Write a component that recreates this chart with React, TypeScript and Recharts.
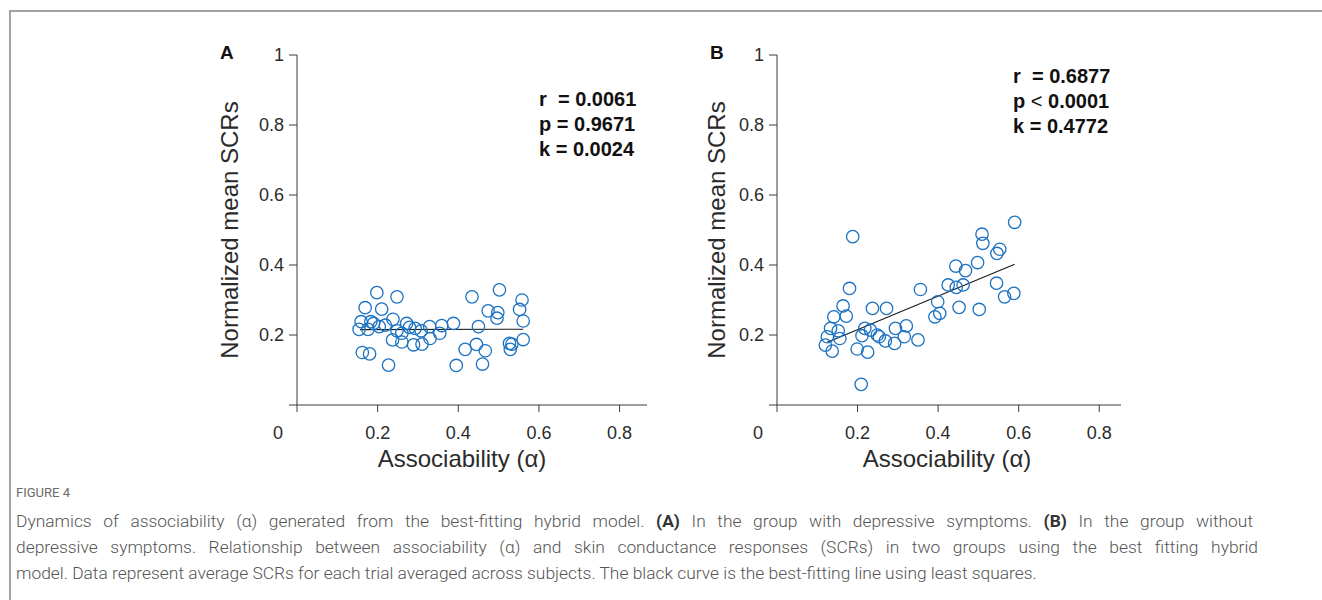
import React from 'react';
import { ComposedChart, Scatter, XAxis, YAxis } from 'recharts';

// axis ticks shared by both panels
const alphaTicks = [0, 0.2, 0.4, 0.6, 0.8];
const scrTicks = [0, 0.2, 0.4, 0.6, 0.8, 1];

// panel A: group with depressive symptoms
const depAlpha = [
  0.198, 0.248, 0.169, 0.21, 0.159, 0.183, 0.19, 0.238, 0.154, 0.176, 0.204, 0.219,
  0.248, 0.272, 0.279, 0.26, 0.293, 0.308, 0.329, 0.359, 0.354, 0.33, 0.388, 0.237,
  0.26, 0.289, 0.31, 0.162, 0.18, 0.227, 0.395, 0.417, 0.445, 0.467, 0.46, 0.45,
  0.434, 0.474, 0.502, 0.498, 0.496, 0.558, 0.552, 0.561, 0.561, 0.527, 0.533, 0.529,
];
const depScr = [
  0.321, 0.309, 0.278, 0.274, 0.238, 0.238, 0.233, 0.245, 0.216, 0.216, 0.224, 0.228,
  0.212, 0.233, 0.222, 0.205, 0.219, 0.212, 0.224, 0.227, 0.205, 0.19, 0.233, 0.186,
  0.18, 0.172, 0.174, 0.15, 0.146, 0.114, 0.113, 0.159, 0.173, 0.155, 0.117, 0.224,
  0.309, 0.269, 0.329, 0.264, 0.248, 0.3, 0.273, 0.24, 0.187, 0.176, 0.174, 0.159,
];
const depFitAlpha = [0.156, 0.561];
const depFitScr = [0.2155, 0.2165];
const depStats = [
  ['r ', '=', '0.0061'],
  ['p', '=', '0.9671'],
  ['k', '=', '0.0024'],
];

// panel B: group without depressive symptoms
const ctlAlpha = [
  0.59, 0.188, 0.509, 0.511, 0.553, 0.546, 0.498, 0.444, 0.468, 0.425, 0.445, 0.462,
  0.356, 0.18, 0.545, 0.565, 0.588, 0.399, 0.404, 0.392, 0.452, 0.502, 0.237, 0.272,
  0.164, 0.141, 0.172, 0.133, 0.152, 0.125, 0.156, 0.12, 0.137, 0.218, 0.232, 0.211,
  0.249, 0.254, 0.269, 0.294, 0.321, 0.316, 0.292, 0.35, 0.199, 0.225, 0.209,
];
const ctlScr = [
  0.522, 0.481, 0.488, 0.462, 0.445, 0.433, 0.407, 0.397, 0.384, 0.343, 0.336, 0.343,
  0.33, 0.333, 0.348, 0.309, 0.319, 0.295, 0.262, 0.252, 0.279, 0.273, 0.276, 0.276,
  0.283, 0.252, 0.254, 0.219, 0.212, 0.195, 0.19, 0.171, 0.154, 0.219, 0.214, 0.198,
  0.2, 0.195, 0.183, 0.219, 0.226, 0.195, 0.176, 0.186, 0.16, 0.151, 0.059,
];
const ctlFitAlpha = [0.125, 0.59];
const ctlFitScr = [0.179, 0.402];
const ctlStats = [
  ['r ', '=', '0.6877'],
  ['p', '<', '0.0001'],
  ['k', '=', '0.4772'],
];

const FONT = '"Liberation Sans", Arial, Helvetica, sans-serif';
const CAPTION_FONT = 'Roboto, "Noto Sans", sans-serif';
const INK = '#2b2b2b';
const AXIS = '#3a3a3a';
const BLUE = '#1c72c2';

const toPoints = (xs: number[], ys: number[]) => xs.map((x, i) => ({ x, y: ys[i] }));

const XTick = (props: any) => {
  const { x, y, payload } = props;
  const v = payload.value;
  // the origin label sits left of the corner, like the MATLAB original
  const shift = v === 0 ? -19 : 0;
  return (
    <text x={x + shift} y={y} dy="0.71em" textAnchor="middle" fill={INK} fontSize={18} fontFamily={FONT}>
      {String(v)}
    </text>
  );
};

const Ring = (props: any) => {
  const { cx, cy } = props;
  if (cx == null || cy == null) return <g />;
  return <circle cx={cx} cy={cy} r={6.2} fill="none" stroke={BLUE} strokeWidth={1.3} />;
};

interface PanelProps {
  left: number;
  width: number;
  xMax: number;
  alpha: number[];
  scr: number[];
  fitAlpha: number[];
  fitScr: number[];
}

function Panel({ left, width, xMax, alpha, scr, fitAlpha, fitScr }: PanelProps) {
  const points = toPoints(alpha, scr);
  const fit = toPoints(fitAlpha, fitScr);
  return (
    <div style={{ position: 'absolute', left, top: 40 }}>
      <ComposedChart width={width} height={420} margin={{ top: 15, right: 23, bottom: 15, left: 37 }}>
        <XAxis
          type="number"
          dataKey="x"
          domain={[0, xMax]}
          ticks={alphaTicks}
          height={40}
          tickSize={7}
          tickMargin={14}
          axisLine={{ stroke: AXIS, strokeWidth: 1 }}
          tickLine={{ stroke: AXIS, strokeWidth: 1 }}
          tick={<XTick />}
        />
        <YAxis
          type="number"
          dataKey="y"
          domain={[0, 1]}
          ticks={scrTicks}
          width={60}
          tickSize={8}
          tickMargin={5}
          axisLine={{ stroke: AXIS, strokeWidth: 1 }}
          tickLine={{ stroke: AXIS, strokeWidth: 1 }}
          tick={{ fill: INK, fontSize: 18, fontFamily: FONT }}
          tickFormatter={(v: number) => (v === 0 ? '' : String(v))}
        />
        <Scatter
          data={fit}
          dataKey="y"
          line={{ stroke: '#1a1a1a', strokeWidth: 1.1 }}
          shape={() => <g />}
          isAnimationActive={false}
          legendType="none"
        />
        <Scatter data={points} dataKey="y" shape={<Ring />} isAnimationActive={false} />
      </ComposedChart>
    </div>
  );
}

const Stats = ({ rows, left, top }: { rows: string[][]; left: number; top: number }) => (
  <div
    style={{
      position: 'absolute',
      left,
      top,
      fontFamily: FONT,
      fontWeight: 700,
      fontSize: 20,
      lineHeight: '25px',
      color: '#111',
      whiteSpace: 'pre',
    }}
  >
    {rows.map((r, i) => (
      <div key={i}>
        {r[0]}{' '}
        <span style={{ fontWeight: r[1] === '<' ? 400 : 700 }}>{r[1]}</span> {r[2]}
      </div>
    ))}
  </div>
);

const Letter = ({ text, left }: { text: string; left: number }) => (
  <div
    style={{
      position: 'absolute',
      left,
      top: 42,
      fontFamily: FONT,
      fontWeight: 700,
      fontSize: 19,
      lineHeight: '22px',
      color: '#111',
    }}
  >
    {text}
  </div>
);

const YTitle = ({ cx }: { cx: number }) => (
  <div
    style={{
      position: 'absolute',
      left: cx,
      top: 230,
      transform: 'translate(-50%, -50%) rotate(-90deg)',
      fontFamily: FONT,
      fontSize: 24,
      color: INK,
      whiteSpace: 'nowrap',
      lineHeight: '28px',
    }}
  >
    Normalized mean SCRs
  </div>
);

const XTitle = ({ cx }: { cx: number }) => (
  <div
    style={{
      position: 'absolute',
      left: cx,
      top: 459,
      transform: 'translate(-50%, -50%)',
      fontFamily: FONT,
      fontSize: 24,
      color: INK,
      whiteSpace: 'nowrap',
      lineHeight: '28px',
    }}
  >
    Associability (α)
  </div>
);

// caption lines, with the justified width each line takes in the figure
const captionLines = [
  [
    'Dynamics of associability (α) generated from the best-fitting hybrid model. ',
    '(A)',
    ' In the group with depressive symptoms. ',
    '(B)',
    ' In the group without',
  ],
  [
    'depressive symptoms. Relationship between associability (α) and skin conductance responses (SCRs) in two groups using the best fitting hybrid',
  ],
  [
    'model. Data represent average SCRs for each trial averaged across subjects. The black curve is the best-fitting line using least squares.',
  ],
];
const captionWidths = [1237, 1242, 0];

export default function App() {
  return (
    <div
      style={{
        position: 'absolute',
        left: 0,
        top: 0,
        width: 1322,
        height: 600,
        overflow: 'hidden',
        background: '#fff',
      }}
    >
      <div
        style={{
          position: 'absolute',
          left: 9,
          top: 10,
          width: 1400,
          height: 700,
          borderTop: '2px solid #a2a2a2',
          borderLeft: '2px solid #a2a2a2',
        }}
      />

      <Panel left={200} width={470} xMax={0.868} alpha={depAlpha} scr={depScr} fitAlpha={depFitAlpha} fitScr={depFitScr} />
      <Panel left={680} width={464} xMax={0.854} alpha={ctlAlpha} scr={ctlScr} fitAlpha={ctlFitAlpha} fitScr={ctlFitScr} />

      <Letter text="A" left={220} />
      <Letter text="B" left={710} />
      <Stats rows={depStats} left={539} top={87} />
      <Stats rows={ctlStats} left={1013} top={64} />
      <YTitle cx={230} />
      <YTitle cx={717} />
      <XTitle cx={462} />
      <XTitle cx={947} />

      <div
        style={{
          position: 'absolute',
          left: 16,
          top: 485,
          fontFamily: CAPTION_FONT,
          fontSize: 13,
          color: '#6b6b6b',
          lineHeight: '16px',
        }}
      >
        FIGURE 4
      </div>
      <div
        style={{
          position: 'absolute',
          left: 16,
          top: 508,
          fontFamily: CAPTION_FONT,
          fontWeight: 300,
          fontSize: 17.4,
          color: '#555',
          lineHeight: '26px',
        }}
      >
        {captionLines.map((line, i) => {
          const w = captionWidths[i];
          return (
            <div
              key={i}
              style={
                w
                  ? { width: w, textAlign: 'justify', textAlignLast: 'justify', whiteSpace: 'normal' }
                  : { whiteSpace: 'nowrap' }
              }
            >
              {line.map((part, j) =>
                part === '(A)' || part === '(B)' ? (
                  <b key={j} style={{ color: '#333', fontWeight: 700 }}>{part}</b>
                ) : (
                  <span key={j}>{part}</span>
                ),
              )}
            </div>
          );
        })}
      </div>
    </div>
  );
}
